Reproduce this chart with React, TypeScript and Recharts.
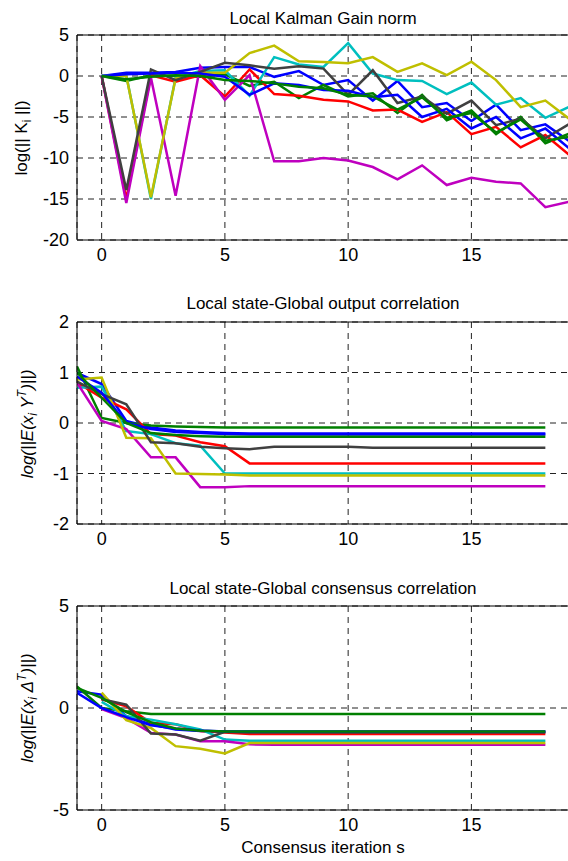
import React from 'react';
import { LineChart, Line, XAxis, YAxis, CartesianGrid, ReferenceLine } from 'recharts';

// consensus iterations
const gainSteps = [0, 1, 2, 3, 4, 5, 6, 7, 8, 9, 10, 11, 12, 13, 14, 15, 16, 17, 18, 19];
const corrSteps = [-1, 0, 1, 2, 3, 4, 5, 6, 7, 8, 9, 10, 11, 12, 13, 14, 15, 16, 17, 18];
const xTicks = [0, 5, 10, 15];

// log(||K_i||) per node
const gainBlueA = [0, 0.4, 0.4, 0.5, 1.0, 1.1, 1.1, -0.1, 0.6, -1.1, -0.5, -3.0, -0.6, -3.8, -3.3, -5.5, -3.5, -6.6, -5.9, -8.0];
const gainGreenA = [0, -0.6, 0.1, 0, -0.1, 0.2, -1.2, -0.7, -2.7, -1.1, -2.5, -2.1, -4.5, -2.3, -5.4, -4.2, -7.1, -5.0, -8.2, -7.0];
const gainRed = [0, -15.0, 0.1, -0.7, 0.1, -2.5, 0.8, -2.2, -2.4, -2.9, -3.1, -4.2, -4.1, -5.6, -4.4, -7.1, -6.2, -8.7, -7.2, -9.7];
const gainCyan = [0, 0.1, -15.0, -0.2, 0.6, 0.7, -2.4, 2.3, 1.4, 1.1, 4.0, 0.3, -0.5, -0.6, -2.2, -0.8, -3.5, -2.7, -5.1, -3.7];
const gainMagenta = [0, -15.5, -0.2, -14.6, 1.2, -2.9, 0.1, -10.4, -10.4, -10.0, -10.3, -11.1, -12.6, -10.9, -13.3, -12.4, -12.9, -13.1, -16.0, -15.3];
const gainYellow = [0, 0, -14.8, -0.3, 0.4, 0.4, 2.8, 3.7, 1.8, 1.7, 1.55, 2.3, 0.5, 1.55, 0.1, 1.75, -0.5, -3.8, -3.0, -5.3];
const gainGray = [0, -13.9, 0.8, -0.5, 0.5, 1.6, 1.3, 0.9, 1.2, 0.9, -2.3, 0.7, -3.3, -2.5, -4.6, -3.0, -6.0, -5.2, -7.6, -5.8];
const gainBlueB = [0, 0.2, 0.3, 0.4, 0.3, -0.1, -2.3, -0.9, -1.1, -1.7, -1.8, -2.6, -2.3, -5.0, -4.0, -6.4, -5.0, -7.6, -6.4, -8.9];
const gainGreenB = [0, -0.4, -0.1, 0.1, 0, -0.5, -0.6, -0.9, -1.3, -1.5, -2.3, -2.5, -4.1, -2.6, -5.1, -4.5, -6.9, -5.3, -7.9, -7.4];

// log(||E(x_i Y^T)||)
const outBlueA = [0.99, 0.77, 0.04, -0.09, -0.15, -0.18, -0.2, -0.21, -0.21, -0.21, -0.21, -0.21, -0.21, -0.21, -0.21, -0.21, -0.21, -0.21, -0.21, -0.21];
const outGreenA = [1.12, 0.1, 0.0, -0.05, -0.07, -0.08, -0.09, -0.09, -0.09, -0.09, -0.09, -0.09, -0.09, -0.09, -0.09, -0.09, -0.09, -0.09, -0.09, -0.09];
const outRed = [0.8, 0.5, 0.27, -0.22, -0.25, -0.38, -0.46, -0.8, -0.8, -0.8, -0.8, -0.8, -0.8, -0.8, -0.8, -0.8, -0.8, -0.8, -0.8, -0.8];
const outCyan = [0.7, 0.72, -0.16, -0.22, -0.4, -0.45, -1.0, -1.0, -1.0, -1.0, -1.0, -1.0, -1.0, -1.0, -1.0, -1.0, -1.0, -1.0, -1.0, -1.0];
const outMagenta = [0.8, 0.04, -0.12, -0.68, -0.68, -1.27, -1.27, -1.25, -1.25, -1.25, -1.25, -1.25, -1.25, -1.25, -1.25, -1.25, -1.25, -1.25, -1.25, -1.25];
const outYellow = [0.86, 0.9, -0.29, -0.3, -1.0, -1.01, -1.02, -1.04, -1.04, -1.04, -1.04, -1.04, -1.04, -1.04, -1.04, -1.04, -1.04, -1.04, -1.04, -1.04];
const outGray = [0.82, 0.57, 0.37, -0.38, -0.4, -0.47, -0.5, -0.52, -0.47, -0.47, -0.47, -0.47, -0.49, -0.49, -0.49, -0.49, -0.49, -0.49, -0.49, -0.49];
const outBlueB = [0.92, 0.6, 0.0, -0.12, -0.18, -0.2, -0.22, -0.23, -0.23, -0.23, -0.23, -0.23, -0.23, -0.23, -0.23, -0.23, -0.23, -0.23, -0.23, -0.23];
const outGreenB = [1.0, 0.5, 0.0, -0.2, -0.24, -0.26, -0.27, -0.27, -0.27, -0.27, -0.27, -0.27, -0.27, -0.27, -0.27, -0.27, -0.27, -0.27, -0.27, -0.27];

// log(||E(x_i Δ^T)||)
const conBlueA = [0.82, 0.65, -0.4, -0.8, -1.05, -1.13, -1.17, -1.17, -1.17, -1.17, -1.17, -1.17, -1.17, -1.17, -1.17, -1.17, -1.17, -1.17, -1.17, -1.17];
const conGreenA = [1.06, 0.0, -0.16, -0.29, -0.29, -0.29, -0.29, -0.29, -0.29, -0.29, -0.29, -0.29, -0.29, -0.29, -0.29, -0.29, -0.29, -0.29, -0.29, -0.29];
const conRed = [null, 0.43, 0.08, -0.73, -0.8, -1.13, -1.2, -1.27, -1.27, -1.27, -1.27, -1.27, -1.27, -1.27, -1.27, -1.27, -1.27, -1.27, -1.27, -1.27];
const conCyan = [null, 0.3, -0.4, -0.57, -0.8, -1.05, -1.55, -1.6, -1.6, -1.6, -1.6, -1.6, -1.6, -1.6, -1.6, -1.6, -1.6, -1.6, -1.6, -1.6];
const conMagenta = [null, -0.05, -0.5, -1.22, -1.3, -1.63, -1.63, -1.78, -1.8, -1.8, -1.8, -1.8, -1.8, -1.8, -1.8, -1.8, -1.8, -1.8, -1.8, -1.8];
const conYellow = [null, 0.75, -0.6, -0.98, -1.87, -2.0, -2.23, -1.72, -1.72, -1.72, -1.72, -1.72, -1.72, -1.72, -1.72, -1.72, -1.72, -1.72, -1.72, -1.72];
const conGray = [null, 0.43, 0.16, -1.25, -1.3, -1.6, -1.17, -1.2, -1.2, -1.2, -1.2, -1.2, -1.2, -1.2, -1.2, -1.2, -1.2, -1.2, -1.2, -1.2];
const conBlueB = [0.74, 0.0, -0.45, -0.85, -1.0, -1.1, -1.15, -1.15, -1.15, -1.15, -1.15, -1.15, -1.15, -1.15, -1.15, -1.15, -1.15, -1.15, -1.15, -1.15];
const conGreenB = [0.98, 0.5, -0.2, -0.7, -1.0, -1.12, -1.15, -1.15, -1.15, -1.15, -1.15, -1.15, -1.15, -1.15, -1.15, -1.15, -1.15, -1.15, -1.15, -1.15];

// plotting order (last one ends up on top)
const keys = ['blueA', 'greenA', 'red', 'cyan', 'magenta', 'yellow', 'gray', 'blueB', 'greenB'];
const colors: Record<string, string> = {
  blueA: '#0000ff', greenA: '#007f00', red: '#ff0000', cyan: '#00bfbf', magenta: '#bf00bf',
  yellow: '#bfbf00', gray: '#404040', blueB: '#0000ff', greenB: '#007f00',
};

const toRows = (steps: number[], cols: (number | null)[][]) =>
  steps.map((s, i) => {
    const row: any = { s };
    keys.forEach((k, j) => { row[k] = cols[j][i]; });
    return row;
  });

const gainRows = toRows(gainSteps, [gainBlueA, gainGreenA, gainRed, gainCyan, gainMagenta, gainYellow, gainGray, gainBlueB, gainGreenB]);
const outRows = toRows(corrSteps, [outBlueA, outGreenA, outRed, outCyan, outMagenta, outYellow, outGray, outBlueB, outGreenB]);
const conRows = toRows(corrSteps, [conBlueA, conGreenA, conRed, conCyan, conMagenta, conYellow, conGray, conBlueB, conGreenB]);

const font = '"Liberation Sans", Arial, sans-serif';
const tickStyle = { fill: '#000', fontSize: 18, fontFamily: font };
const PAD = 12;

function Panel({ top, plotHeight, rows, yDomain, yTicks }: any) {
  return (
    <div style={{ position: 'absolute', left: 0, top: top - PAD }}>
      <LineChart width={572} height={plotHeight + 30 + PAD} data={rows} margin={{ top: PAD, right: 2, bottom: 0, left: 0 }}>
        <CartesianGrid stroke="#222" strokeDasharray="6 5" />
        <XAxis dataKey="s" type="number" domain={[-1, 19]} ticks={xTicks} interval={0} allowDataOverflow
          height={30} axisLine={{ stroke: '#000' }} tickLine={false} tick={tickStyle} />
        <YAxis type="number" domain={yDomain} ticks={yTicks} interval={0} allowDataOverflow
          width={77} axisLine={{ stroke: '#000' }} tickLine={false} tick={tickStyle} />
        <ReferenceLine y={yDomain[1]} stroke="#000" />
        <ReferenceLine x={19} stroke="#000" />
        {keys.map(k => (
          <Line key={k} type="linear" dataKey={k} stroke={colors[k]} strokeWidth={2.5}
            dot={false} isAnimationActive={false} />
        ))}
      </LineChart>
    </div>
  );
}

export default function App() {
  return (
    <div style={{ position: 'absolute', left: 0, top: 0, width: 568, height: 861, overflow: 'hidden', background: '#fff' }}>
      <Panel top={35} plotHeight={205} rows={gainRows} yDomain={[-20, 5]} yTicks={[-20, -15, -10, -5, 0, 5]} />
      <Panel top={322} plotHeight={202} rows={outRows} yDomain={[-2, 2]} yTicks={[-2, -1, 0, 1, 2]} />
      <Panel top={606} plotHeight={204} rows={conRows} yDomain={[-5, 5]} yTicks={[-5, 0, 5]} />
      <svg width={568} height={861} style={{ position: 'absolute', left: 0, top: 0, pointerEvents: 'none' }}
        fontFamily={font} fontSize={17} fill="#000">
        <text x={323} y={23.5} textAnchor="middle">Local Kalman Gain  norm</text>
        <text x={323} y={309} textAnchor="middle">Local state-Global output correlation</text>
        <text x={323} y={594} textAnchor="middle">Local state-Global consensus correlation</text>
        <text x={323} y={853} textAnchor="middle">Consensus iteration s</text>
        <text transform="translate(27,138) rotate(-90)" textAnchor="middle">
          log(|| K<tspan dy={4} fontSize={12}>i</tspan><tspan dy={-4}> ||)</tspan>
        </text>
        <text transform="translate(33,424) rotate(-90)" textAnchor="middle" fontStyle="italic">
          log(||E(x<tspan dy={4} fontSize={12}>i</tspan><tspan dy={-4}>  Y</tspan><tspan dy={-7} fontSize={12}>T</tspan><tspan dy={7}>)||)</tspan>
        </text>
        <text transform="translate(33,708) rotate(-90)" textAnchor="middle" fontStyle="italic">
          log(||E(x<tspan dy={4} fontSize={12}>i</tspan><tspan dy={-4}> Δ</tspan><tspan dy={-7} fontSize={12}>T</tspan><tspan dy={7}>)||)</tspan>
        </text>
      </svg>
    </div>
  );
}
